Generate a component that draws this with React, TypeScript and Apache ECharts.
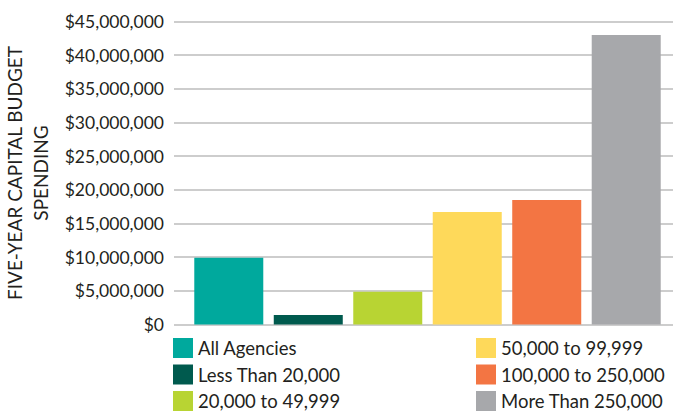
import React, { useEffect, useRef } from "react";
import * as echarts from "echarts";

const groups = [
  "All Agencies",
  "Less Than 20,000",
  "20,000 to 49,999",
  "50,000 to 99,999",
  "100,000 to 250,000",
  "More Than 250,000",
];
const spending = [9900000, 1400000, 4850000, 16700000, 18500000, 43000000];
const colors = ["#00a99d", "#005a4e", "#b8d433", "#fed95a", "#f37543", "#a7a8ab"];
const yTicks = { min: 0, max: 45000000, interval: 5000000 };

const FONT = "Lato, 'Open Sans', sans-serif";
const TEXT = "#231f20";

function formatMoney(v: number): string {
  return "$" + v.toLocaleString("en-US");
}

export default function App() {
  const ref = useRef<HTMLDivElement>(null);

  useEffect(() => {
    if (!ref.current) return;
    const chart = echarts.init(ref.current, undefined, { renderer: "svg" });

    const legendCommon = {
      orient: "vertical" as const,
      top: 338,
      itemWidth: 20,
      itemHeight: 20,
      itemGap: 6.5,
      icon: "rect",
      selectedMode: false,
      textStyle: { fontFamily: FONT, fontSize: 18.5, color: TEXT, padding: [0, 0, 0, 0] },
      padding: 0,
    };

    chart.setOption({
      animation: false,
      textStyle: { fontFamily: FONT },
      grid: {
        left: 174,
        right: -8,
        top: 21.5,
        bottom: 92.5,
        containLabel: false,
        outerBoundsMode: "none",
      },
      legend: [
        { ...legendCommon, left: 173, data: groups.slice(0, 3) },
        { ...legendCommon, left: 476, data: groups.slice(3) },
      ],
      xAxis: {
        type: "category",
        data: [""],
        axisLine: { show: false },
        axisTick: { show: false },
        axisLabel: { show: false },
      },
      yAxis: {
        type: "value",
        min: yTicks.min,
        max: yTicks.max,
        interval: yTicks.interval,
        name: "FIVE-YEAR CAPITAL BUDGET\nSPENDING",
        nameLocation: "middle",
        nameGap: 118,
        nameTextStyle: { fontFamily: FONT, fontSize: 19, color: TEXT, lineHeight: 26 },
        axisLine: { show: false },
        axisTick: { show: false },
        axisLabel: {
          formatter: formatMoney,
          fontFamily: FONT,
          fontSize: 17.5,
          color: TEXT,
          margin: 10,
        },
        splitLine: { lineStyle: { color: "#bcbcbc", width: 1.5 } },
      },
      series: groups.map((name, i) => ({
        name,
        type: "bar",
        data: [spending[i]],
        barWidth: 69,
        barGap: "15.2%",
        itemStyle: { color: colors[i] },
      })),
    });

    return () => chart.dispose();
  }, []);

  return (
    <div
      ref={ref}
      style={{ position: "absolute", left: 0, top: 0, width: 673, height: 417 }}
    />
  );
}
